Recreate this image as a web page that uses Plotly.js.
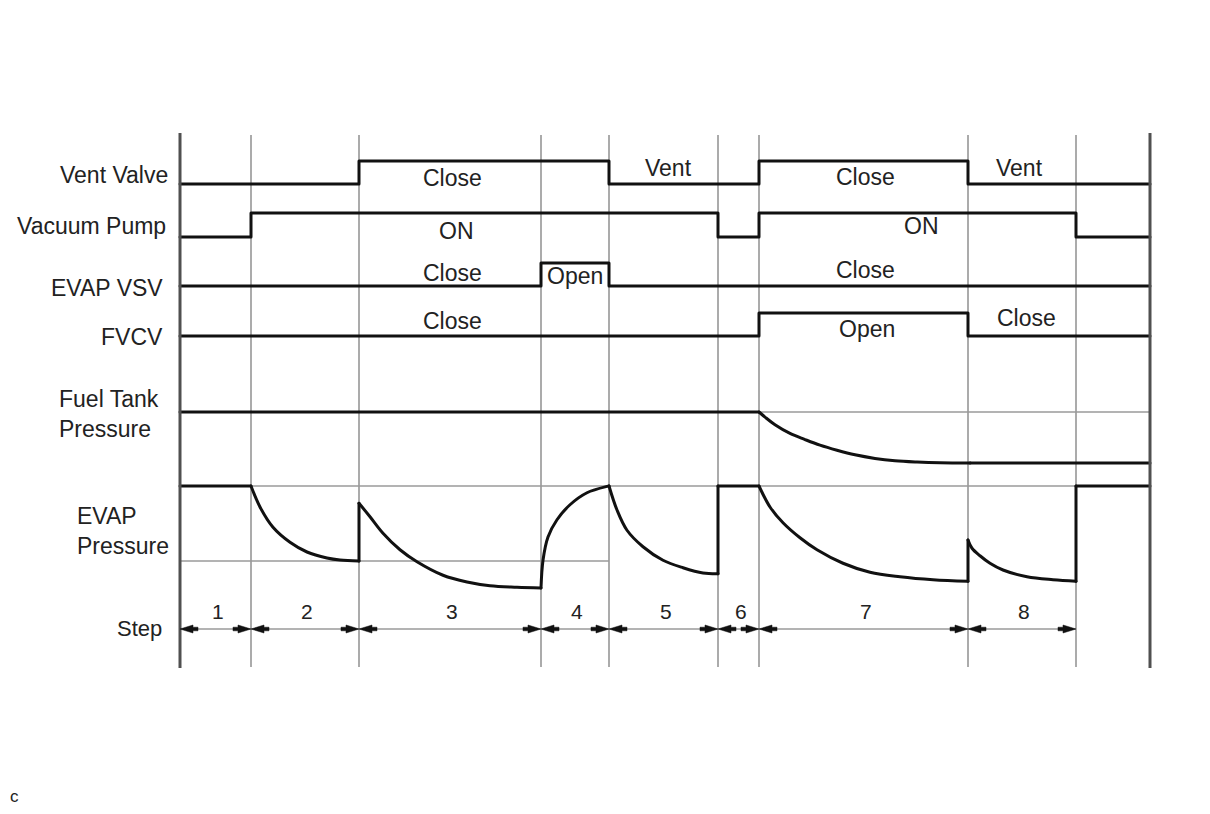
<!DOCTYPE html>
<html>
<head>
<meta charset="utf-8">
<script src="https://cdn.plot.ly/plotly-3.0.1.min.js"></script>
<style>
  html, body { margin: 0; padding: 0; background: #ffffff; }
  #chart { width: 1210px; height: 814px; }
  .scatterlayer .js-line { stroke-linecap: round; stroke-linejoin: round; }
</style>
</head>
<body>
<div id="chart"></div>
<script>
// ---------------- DATA (time in arbitrary units, levels normalised) ----------------
const stepBounds = [0, 71, 179, 361, 429, 538, 579, 788, 896];
const timeEnd = 970;
const stepNames = ['1', '2', '3', '4', '5', '6', '7', '8'];

const signalNames = ['Vent Valve', 'Vacuum Pump', 'EVAP VSV', 'FVCV'];

// digital signals: 0 = low level, 1 = high level (held until next change)
const ventValveT = [0, 179, 429, 579, 788, 970];
const ventValveS = [0, 1, 0, 1, 0, 0];
const pumpT = [0, 71, 538, 579, 896, 970];
const pumpS = [0, 1, 0, 1, 0, 0];
const vsvT = [0, 361, 429, 970];
const vsvS = [0, 1, 0, 0];
const fvcvT = [0, 579, 788, 970];
const fvcvS = [0, 1, 0, 0];

const ventValveText = ['Close', 'Vent', 'Close', 'Vent'];
const pumpText = ['ON', 'ON'];
const vsvText = ['Close', 'Open', 'Close'];
const fvcvText = ['Close', 'Open', 'Close'];

// fuel tank pressure: 1 = atmospheric, 0 = final level
const ftpFlatT = [0, 579];
const ftpFlatP = [1, 1];
const ftpDropT = [579, 585, 595, 610, 625, 640, 657, 675, 695, 715, 737, 760, 790];
const ftpDropP = [1, 0.90, 0.75, 0.58, 0.46, 0.35, 0.25, 0.16, 0.09, 0.045, 0.02, 0.005, 0];
const ftpEndT = [790, 970];
const ftpEndP = [0, 0];

// EVAP pressure: 1 = atmospheric, 0 = reference pressure
const evap1T = [0, 71];
const evap1P = [1, 1];
const evap2T = [71, 80, 93, 110, 127, 147, 160, 179];
const evap2P = [1, 0.72, 0.45, 0.25, 0.12, 0.04, 0.013, 0];
const evap3T = [179, 190, 203, 220, 237, 263, 287, 310, 337, 361];
const evap3P = [0.77, 0.59, 0.37, 0.15, -0.01, -0.19, -0.28, -0.33, -0.35, -0.36];
const evap4T = [361, 363, 368, 377, 390, 407, 427, 429];
const evap4P = [-0.36, 0.01, 0.32, 0.55, 0.75, 0.91, 0.995, 1];
const evap5T = [429, 437, 447, 463, 483, 503, 523, 538];
const evap5P = [1, 0.68, 0.41, 0.19, 0.01, -0.09, -0.16, -0.17];
const evap6T = [538, 579];
const evap6P = [1, 1];
const evap7T = [579, 590, 603, 620, 637, 663, 690, 720, 753, 788];
const evap7P = [1, 0.72, 0.51, 0.31, 0.15, -0.03, -0.15, -0.21, -0.25, -0.27];
const evap8T = [788, 792, 800, 810, 823, 847, 873, 896];
const evap8P = [0.28, 0.17, 0.07, -0.03, -0.12, -0.21, -0.25, -0.27];
const evap9T = [896, 970];
const evap9P = [1, 1];

// ---------------- LAYOUT HELPERS ----------------
const W = 1210, H = 814;
const FONT = 'Liberation Sans, Arial, Helvetica, sans-serif';
const INK = '#111111';
const py = px => 1 - px / H;   // paper y from pixel row

function lane(pxZero, pxOne, lo, hi) {
  const k = pxZero - pxOne;
  return {
    domain: [1 - (pxZero - lo * k) / H, 1 - (pxZero - hi * k) / H],
    range: [lo, hi], visible: false, fixedrange: true, anchor: 'x',
    showgrid: false, zeroline: false
  };
}

const traces = [];
function addLine(t, v, yaxis, shape) {
  traces.push({
    x: t, y: v, xaxis: 'x', yaxis: yaxis, type: 'scatter', mode: 'lines',
    line: { color: INK, width: 3, shape: shape, smoothing: 1 },
    hoverinfo: 'skip', showlegend: false
  });
}

// digital signals
addLine(ventValveT, ventValveS, 'y', 'hv');
addLine(pumpT, pumpS, 'y2', 'hv');
addLine(vsvT, vsvS, 'y3', 'hv');
addLine(fvcvT, fvcvS, 'y4', 'hv');

// fuel tank pressure
addLine(ftpFlatT, ftpFlatP, 'y5', 'linear');
addLine(ftpDropT, ftpDropP, 'y5', 'spline');
addLine(ftpEndT, ftpEndP, 'y5', 'linear');

// EVAP pressure pieces + vertical jumps between them
const evapPieces = [
  [evap1T, evap1P], [evap2T, evap2P], [evap3T, evap3P], [evap4T, evap4P],
  [evap5T, evap5P], [evap6T, evap6P], [evap7T, evap7P], [evap8T, evap8P],
  [evap9T, evap9P]
];
evapPieces.forEach((p, i) => {
  addLine(p[0], p[1], 'y6', p[0].length > 2 ? 'spline' : 'linear');
  if (i < evapPieces.length - 1) {
    const n = evapPieces[i + 1];
    const a = p[0].length - 1;
    if (p[1][a] !== n[1][0] || p[0][a] !== n[0][0]) {
      addLine([p[0][a], n[0][0]], [p[1][a], n[1][0]], 'y6', 'linear');
    }
  }
});

// ---------------- SHAPES ----------------
const shapes = [];
const GRID = '#ababab';
const REF = '#9a9a9a';
// step boundary lines
stepBounds.slice(1).forEach(b => {
  shapes.push({ type: 'line', layer: 'below', xref: 'x', yref: 'paper',
    x0: b, x1: b, y0: py(667), y1: py(135), line: { color: GRID, width: 2 } });
});
// frame lines
[0, timeEnd].forEach(b => {
  shapes.push({ type: 'line', layer: 'above', xref: 'x', yref: 'paper',
    x0: b, x1: b, y0: py(668), y1: py(133), line: { color: '#505050', width: 3 } });
});
// pressure reference lines
shapes.push({ type: 'line', layer: 'below', xref: 'x', yref: 'y5',
  x0: 0, x1: timeEnd, y0: 1, y1: 1, line: { color: REF, width: 1.5 } });
shapes.push({ type: 'line', layer: 'below', xref: 'x', yref: 'y6',
  x0: 0, x1: timeEnd, y0: 1, y1: 1, line: { color: REF, width: 1.5 } });
shapes.push({ type: 'line', layer: 'below', xref: 'x', yref: 'y6',
  x0: 0, x1: stepBounds[4], y0: 0, y1: 0, line: { color: REF, width: 1.5 } });
// step dimension line
const stepY = py(629);
shapes.push({ type: 'line', layer: 'below', xref: 'x', yref: 'paper',
  x0: stepBounds[0], x1: stepBounds[stepBounds.length - 1], y0: stepY, y1: stepY,
  line: { color: REF, width: 1.5 } });
const arrowLeft = 'M0,0 L13,4 L13,1.8 L18,1.8 L18,-1.8 L13,-1.8 L13,-4 Z';
const arrowRight = 'M0,0 L-13,4 L-13,1.8 L-18,1.8 L-18,-1.8 L-13,-1.8 L-13,-4 Z';
for (let i = 0; i < stepNames.length; i++) {
  [[stepBounds[i], arrowLeft], [stepBounds[i + 1], arrowRight]].forEach(([b, path]) => {
    shapes.push({ type: 'path', layer: 'above', xref: 'x', yref: 'paper',
      xsizemode: 'pixel', ysizemode: 'pixel', xanchor: b, yanchor: stepY,
      path: path, fillcolor: INK, line: { color: INK, width: 0.5 } });
  });
}

// ---------------- ANNOTATIONS ----------------
const annotations = [];
function txt(text, x, yPx, anchor, size, xref) {
  annotations.push({ text: text, x: x, y: py(yPx), xref: xref || 'x', yref: 'paper',
    xanchor: anchor || 'center', yanchor: 'middle', showarrow: false, align: 'left',
    font: { family: FONT, size: size || 23, color: '#222222' } });
}
// row labels
txt(signalNames[0], -10, 175, 'right');
txt(signalNames[1], -12, 226, 'right');
txt(signalNames[2], -15, 288, 'right');
txt(signalNames[3], -15, 337, 'right');
txt('Fuel Tank<br>Pressure', -123, 414, 'left');
txt('EVAP<br>Pressure', -105, 531, 'left');
txt('Step', -16, 628, 'right', 22);
txt('c', 14 / W, 796, 'center', 17, 'paper');

// state labels
[[ventValveText, [272, 488, 685, 839], [178, 168, 177, 168]],
 [pumpText, [276, 741], [231, 226]],
 [vsvText, [272, 395, 685], [273, 276, 270]],
 [fvcvText, [272, 687, 846], [321, 329, 318]]].forEach(([texts, xs, ys]) => {
  texts.forEach((t, i) => txt(t, xs[i], ys[i], 'center'));
});

// step numbers
stepNames.forEach((s, i) => {
  txt(s, (stepBounds[i] + stepBounds[i + 1]) / 2 + 2, 611, 'center', 21);
});

const layout = {
  width: W, height: H,
  margin: { l: 0, r: 0, t: 0, b: 0, pad: 0 },
  paper_bgcolor: '#ffffff', plot_bgcolor: 'rgba(0,0,0,0)',
  showlegend: false,
  xaxis: { range: [-180, 1030], domain: [0, 1], visible: false, fixedrange: true,
           showgrid: false, zeroline: false, anchor: 'y' },
  yaxis: lane(184, 161, -0.6, 1.6),
  yaxis2: lane(237, 213, -0.6, 1.6),
  yaxis3: lane(286, 263, -0.6, 1.6),
  yaxis4: lane(336, 313, -0.6, 1.6),
  yaxis5: lane(463, 412, -0.4, 1.4),
  yaxis6: lane(561, 486, -0.8, 1.4),
  shapes: shapes,
  annotations: annotations,
  font: { family: FONT }
};

Plotly.newPlot('chart', traces, layout, { staticPlot: true, displayModeBar: false });
</script>
</body>
</html>
